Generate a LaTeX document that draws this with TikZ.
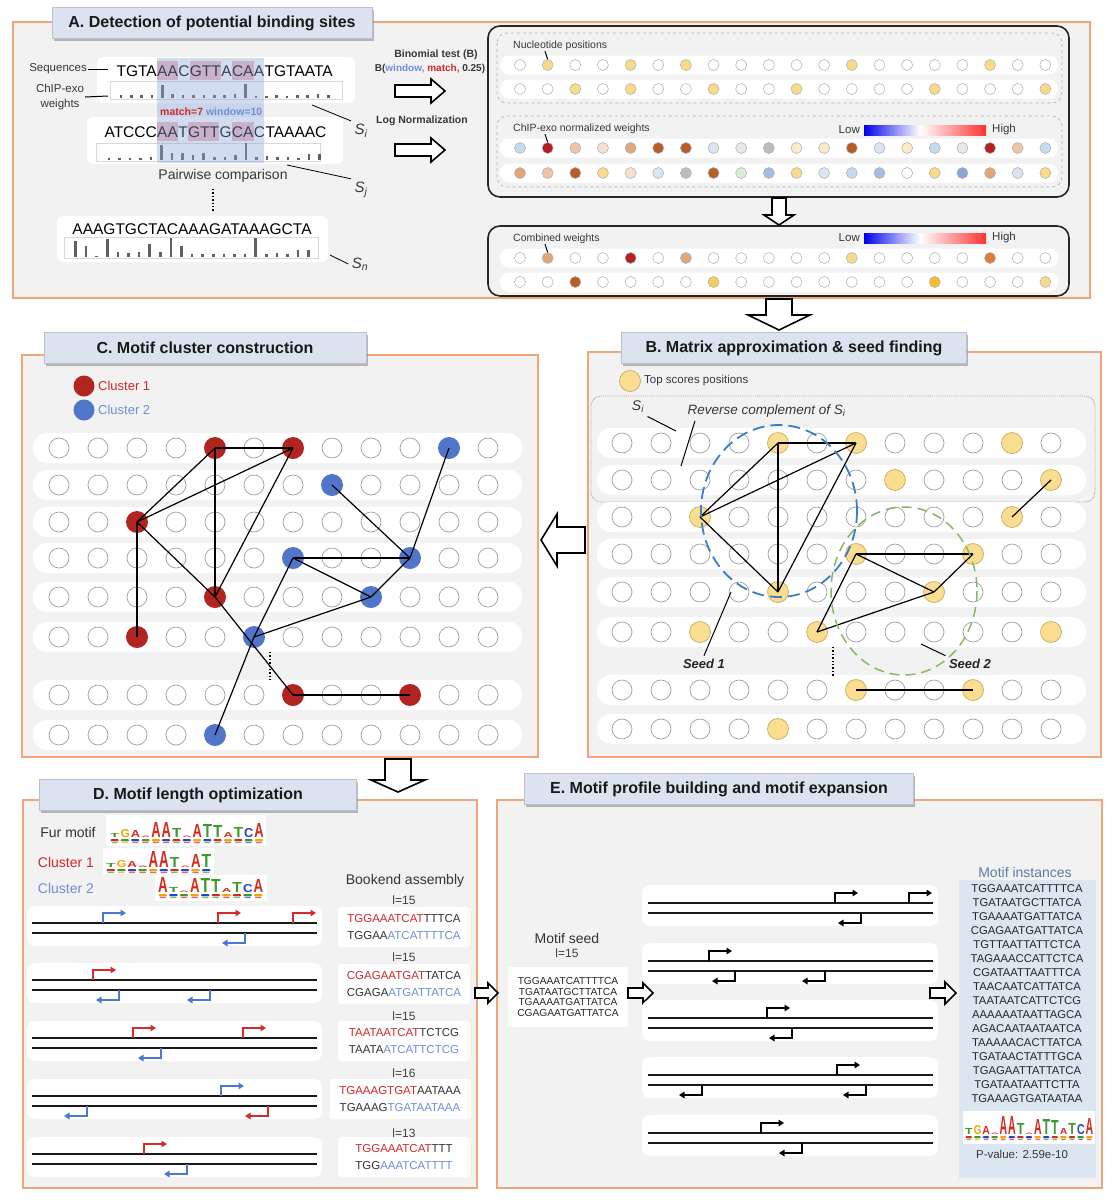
\documentclass[tikz,border=0pt]{standalone}
\usepackage{fontspec}
\setmainfont{Liberation Sans}
\usepackage{graphicx}
\usetikzlibrary{arrows.meta,shadows}
\definecolor{orb}{HTML}{EFA679}
\definecolor{pbg}{HTML}{F2F2F2}
\definecolor{tbg}{HTML}{DDE2F0}
\definecolor{txt}{HTML}{383838}
\definecolor{ylw}{HTML}{F9DD90}
\definecolor{ylwd}{HTML}{C9AC5C}
\definecolor{cred}{HTML}{B22420}
\definecolor{cblue}{HTML}{5176C9}
\definecolor{tred}{HTML}{D02A2A}
\definecolor{tblue}{HTML}{6F8FD8}
\definecolor{hlr}{HTML}{F2B8BE}
\definecolor{winb}{HTML}{8FA8DC}
\definecolor{bar}{HTML}{606060}
\definecolor{lgA}{HTML}{D62A1E}
\definecolor{lgT}{HTML}{3C9A2C}
\definecolor{lgC}{HTML}{2446C2}
\definecolor{lgG}{HTML}{F2A600}
\definecolor{mib}{HTML}{DCE6F1}
\definecolor{mit}{HTML}{5A7EA8}
\definecolor{dred}{HTML}{D42A2A}
\definecolor{dblue}{HTML}{4A78D2}
\definecolor{elb}{HTML}{3B7EC6}
\definecolor{elg}{HTML}{86B865}
\definecolor{cw}{HTML}{FFFFFF}
\definecolor{cy}{HTML}{F7DB8A}
\definecolor{cyl}{HTML}{FBEBC6}
\definecolor{cyd}{HTML}{F4CF5C}
\definecolor{cg}{HTML}{F3BE32}
\definecolor{cdr}{HTML}{B41F1F}
\definecolor{cbr}{HTML}{B95C26}
\definecolor{csa}{HTML}{E3A679}
\definecolor{csl}{HTML}{EEC5A6}
\definecolor{cpe}{HTML}{F6E1CE}
\definecolor{clb}{HTML}{C6DAF0}
\definecolor{cvb}{HTML}{DAE4F3}
\definecolor{cmb}{HTML}{A3BEE2}
\definecolor{cdb}{HTML}{8CA4D8}
\definecolor{cgr}{HTML}{BCBCBC}
\definecolor{clg}{HTML}{E8E8E8}
\definecolor{cgn}{HTML}{D8ECD6}
\definecolor{cor}{HTML}{E07B3C}
\makeatletter
\newcommand{\ifinlist}[2]{\edef\my@tmp{\noexpand\in@{,#1,}{,#2,}}\my@tmp
  \ifin@\expandafter\@firstoftwo\else\expandafter\@secondoftwo\fi}
\makeatother
\newcommand{\fsz}[1]{\fontsize{#1}{#1}\selectfont}
\newcommand{\harrV}[6]{\draw[harr] ({#1-#4},#2) -- ({#1-#4},{#3-#6}) -- ({#1-#5},{#3-#6}) -- (#1,#3) -- ({#1+#5},{#3-#6}) -- ({#1+#4},{#3-#6}) -- ({#1+#4},#2) -- cycle;}
\newcommand{\harrH}[6]{\draw[harr] (#1,{#3-#4}) -- ({#2-#6},{#3-#4}) -- ({#2-#6},{#3-#5}) -- (#2,#3) -- ({#2-#6},{#3+#5}) -- ({#2-#6},{#3+#4}) -- (#1,{#3+#4}) -- cycle;}
\newcommand{\fwdarr}[3]{\draw[bent,#3] (#1,#2) -- (#1,{#2-10}) -- ({#1+23},{#2-10});}
\newcommand{\revarr}[3]{\draw[bent,#3] (#1,#2) -- (#1,{#2+10}) -- ({#1-23},{#2+10});}
\newcommand{\wbars}[4]{\foreach \hh [count=\kk from 0] in {#4} {\fill[bar] ({#1+(\kk+0.5)*#2-1.3},#3) rectangle ({#1+(\kk+0.5)*#2+1.3},{#3-\hh-0.8});}}
\newcommand{\seqlogo}[6]{\foreach \lL/\lH/\lS [count=\kk from 0] in {#6} {%
  \node[inner sep=0, anchor=south west] (#1m\kk) at ({#2+\kk*#4},#3) {\resizebox{#5pt}{\lH pt}{\textcolor{lg\lL}{\bfseries\lL}}};
  \fill[lg\lS, rounded corners=0.8pt] ({#2+\kk*#4+0.6},{#3+1.2}) rectangle ({#2+\kk*#4+#5-0.6},{#3+3.2});
  \fill[lg\lL!70!white, rounded corners=0.6pt] ({#2+\kk*#4+1.5},{#3+3.6}) rectangle ({#2+\kk*#4+#5-1.5},{#3+5});}}
\def\Bhi{0-4,0-6,0-10,1-7,1-11,2-2,2-10,3-6,3-9,4-4,4-8,5-2,5-5,5-11,6-6,6-9,7-4}
\def\Cred{0-4,0-6,2-2,4-4,5-2,6-6,6-9}
\def\Cblue{0-10,1-7,3-6,3-9,4-8,5-5,7-4}
\begin{document}
\begin{tikzpicture}[x=1pt,y=-1pt,
  panel/.style={draw=orb, line width=1.3pt, fill=pbg},
  ttl/.style={fill=tbg, draw=tbg!85!black, line width=0.3pt, font=\fsz{16}\bfseries, text=black!90, minimum height=31pt, inner sep=0pt, drop shadow={shadow xshift=1.5pt, shadow yshift=-2.5pt, fill=black!45, opacity=0.6}},
  lbl/.style={font=\fsz{11.5}, text=txt, inner sep=1pt},
  ec/.style={circle, draw=gray!75, fill=white, line width=0.7pt, minimum size=20pt, inner sep=0pt},
  yc/.style={circle, draw=ylwd, fill=ylw, line width=0.7pt, minimum size=21pt, inner sep=0pt},
  rc/.style={circle, fill=cred, minimum size=22pt, inner sep=0pt},
  bc/.style={circle, fill=cblue, minimum size=22pt, inner sep=0pt},
  ac/.style={circle, draw=gray!65, line width=0.5pt, minimum size=11pt, inner sep=0pt},
  edge/.style={line width=1.2pt, black},
  sq/.style={font=\fsz{15.5}, inner xsep=0pt, inner ysep=4pt, anchor=base west},
  harr/.style={draw=black, fill=white, line width=1.6pt, line join=miter},
  bent/.style={line width=2pt, -{Triangle[length=5.5pt,width=6.5pt]}},
  strand/.style={line width=1.8pt, black!90},
  dseq/.style={fill=white, rounded corners=3pt, minimum width=132pt, minimum height=40pt, align=center, font=\fontsize{11.5}{17}\selectfont, text=black!80, inner sep=2pt},
  smlbl/.style={font=\fsz{10.5}, text=txt, anchor=west, inner sep=0pt}
]
\path[use as bounding box, fill=white] (0,0) rectangle (1117,1200);
% ---------- panels
\draw[panel] (13,22) rectangle (1090,298);
\draw[panel] (588,352) rectangle (1101,757);
\draw[panel] (22,355) rectangle (538,757);
\draw[panel] (23,800) rectangle (477,1188);
\draw[panel] (497,800) rectangle (1102,1188);
\node[ttl, minimum width=320pt] (tA) at (212,23) {A. Detection of potential binding sites};
\node[ttl, minimum width=345pt] (tB) at (794,348) {B. Matrix approximation \& seed finding};
\node[ttl, minimum width=322pt] (tC) at (205,348) {C. Motif cluster construction};
\node[ttl, minimum width=317pt] (tD) at (198,795) {D. Motif length optimization};
\node[ttl, minimum width=389pt] (tE) at (719,789) {E. Motif profile building and motif expansion};

% ---------- panel A left
\fill[white, rounded corners=6pt] (97,57) rectangle (355,103);
\fill[white, rounded corners=6pt] (87,117) rectangle (343,164);
\fill[white, rounded corners=6pt] (57,216) rectangle (328,262);
\draw[gray!30, line width=0.6pt] (110,81) rectangle (342,99);
\draw[gray!30, line width=0.6pt] (96,143) rectangle (320,161);
\draw[gray!30, line width=0.6pt] (64,237) rectangle (318,258);
\node[sq, fill=hlr] (s1b) at (157,76) {AA};
\node[sq, anchor=base east] (s1a) at (s1b.base west) {TGTA};
\node[sq] (s1c) at (s1b.base east) {C};
\node[sq, fill=hlr] (s1d) at (s1c.base east) {GTT};
\node[sq] (s1e) at (s1d.base east) {A};
\node[sq, fill=hlr] (s1f) at (s1e.base east) {CA};
\node[sq] (s1g) at (s1f.base east) {A};
\node[sq] (s1h) at (s1g.base east) {TGTAATA};
\node[sq, fill=hlr] (s2b) at (157,137) {AA};
\node[sq, anchor=base east] (s2a) at (s2b.base west) {ATCCC};
\node[sq] (s2c) at (s2b.base east) {T};
\node[sq, fill=hlr] (s2d) at (s2c.base east) {GTT};
\node[sq] (s2e) at (s2d.base east) {G};
\node[sq, fill=hlr] (s2f) at (s2e.base east) {CA};
\node[sq] (s2g) at (s2f.base east) {C};
\node[sq] (s2h) at (s2g.base east) {TAAAAC};
\node[sq, anchor=base] (sn) at (192,234) {AAAGTGCTACAAAGATAAAGCTA};
\wbars{115.7}{10.38}{98}{2,2,2,2,12,3,2,2,2,2,2,3,13,1.5,1.5,2,1.5,2,2,3,2}
\wbars{103.6}{10.54}{160}{1,1,1,1,2,14,6,6,4,6,2,2,4,16,2,3,2,2,1,5,5}
\wbars{70.1}{10.6}{257}{15,10,0,17,4,3,4,12,4,18,10,2,2,2,2,2,2,18,2,3,2,6,6}
\coordinate (wt) at (0,58);
\coordinate (wb) at (0,163);
\fill[winb, opacity=0.4] (s1b.west |- wt) rectangle (s1g.east |- wb);
\node[font=\fsz{10.5}\bfseries, anchor=base west, inner sep=0pt] (mw) at (160,115) {\textcolor{tred}{match=7} \textcolor{tblue}{window=10}};
\node[lbl, anchor=east] (lseq) at (88,69) {Sequences};
\coordinate (lseqE) at (108,69);
\draw[line width=1pt] (lseq.east) -- (lseqE);
\node[lbl, align=center, font=\fontsize{11.5}{15}\selectfont] (lchip) at (60,97) {ChIP-exo\\weights};
\coordinate (lchipE) at (108,96);
\draw[line width=1pt] (lchip.east) -- (lchipE);
\node[font=\fsz{14}, text=txt] (pw) at (223,176) {Pairwise comparison};
\coordinate (dA) at (213,189);
\coordinate (dB) at (213,212);
\draw[dotted, line width=1.4pt] (dA) -- (dB);
\node[font=\fsz{15}\itshape, text=txt] (si) at (361,131) {S\textsubscript{i}};
\coordinate (siA) at (312,105);
\draw[line width=0.8pt] (siA) -- (si.north west);
\node[font=\fsz{15}\itshape, text=txt] (sj) at (361,190) {S\textsubscript{j}};
\coordinate (sjA) at (287,165);
\draw[line width=0.8pt] (sjA) -- (sj.north west);
\node[font=\fsz{15}\itshape, text=txt] (snl) at (360,264) {S\textsubscript{n}};
\coordinate (snA) at (330,255);
\draw[line width=0.8pt] (snA) -- (snl.west);
\node[font=\fsz{10.5}\bfseries, text=txt] (bt) at (436,55) {Binomial test (B)};
\node[font=\fsz{10}\bfseries, text=txt] (bf) at (430,69) {B(\textcolor{tblue}{window,} \textcolor{tred}{match,} 0.25)};
\harrH{395}{445}{91}{6}{12}{14}
\node[font=\fsz{10.5}\bfseries, text=txt] (ln) at (422,121) {Log Normalization};
\harrH{395}{445}{150}{6}{12}{14}

% ---------- panel A right
\draw[line width=1.6pt, draw=black!85, rounded corners=12pt] (488,26) rectangle (1069,197);
\draw[dashed, draw=gray!60, line width=0.7pt, rounded corners=10pt] (497,33) rectangle (1062,103);
\draw[dashed, draw=gray!60, line width=0.7pt, rounded corners=10pt] (497,116) rectangle (1062,187);
\harrV{779}{198}{225}{7}{15}{10}
\draw[line width=1.6pt, draw=black!85, rounded corners=12pt] (488,226) rectangle (1069,296);
\foreach \yy in {65,89,148,173,258,282} {\fill[white, rounded corners=9pt] (500,{\yy-9.5}) rectangle (1058,{\yy+9.5});}
\foreach \col [count=\kk from 0] in {cw,cy,cw,cw,cy,cw,cy,cw,cw,cw,cw,cw,cy,cw,cw,cw,cw,cy,cw,cw} {\node[ac, fill=\col] (na\kk) at ({520+27.65*\kk},65) {};}
\foreach \col [count=\kk from 0] in {cw,cw,cy,cw,cy,cw,cw,cy,cw,cw,cy,cw,cw,cw,cw,cy,cw,cw,cw,cy} {\node[ac, fill=\col] (nb\kk) at ({520+27.65*\kk},89) {};}
\foreach \col [count=\kk from 0] in {clb,cdr,csl,cpe,csa,cbr,cbr,cvb,clg,cgr,cyl,cyl,cbr,cvb,cyl,clb,clg,cdr,csl,clb} {\node[ac, fill=\col] (ca\kk) at ({520+27.65*\kk},148) {};}
\foreach \col [count=\kk from 0] in {csa,csl,cbr,cy,cpe,cvb,cgr,cbr,cgn,cmb,cy,cvb,clb,cmb,cw,cy,cdb,csa,cvb,cy} {\node[ac, fill=\col] (cb\kk) at ({520+27.65*\kk},173) {};}
\foreach \col [count=\kk from 0] in {cw,csa,cw,cw,cdr,cw,csa,cw,cw,cw,cw,cw,cy,cw,cw,cw,cw,cor,cw,cw} {\node[ac, fill=\col] (ma\kk) at ({520+27.65*\kk},258) {};}
\foreach \col [count=\kk from 0] in {cw,cw,cbr,cw,cw,cw,cw,cyd,cw,cw,cw,cw,cw,cw,cw,cg,cw,cw,cw,cy} {\node[ac, fill=\col] (mb\kk) at ({520+27.65*\kk},282) {};}
\node[smlbl] (lnuc) at (513,46) {Nucleotide positions};
\draw[line width=1pt] ([xshift=32pt]lnuc.south west) -- (na1.north);
\node[smlbl] (lchn) at (513,129) {ChIP-exo normalized weights};
\draw[line width=1pt] ([xshift=32pt]lchn.south west) -- (ca1.north);
\node[smlbl] (lcomb) at (513,239) {Combined weights};
\draw[line width=1pt] ([xshift=32pt]lcomb.south west) -- (ma1.north);
\foreach \yy/\nm in {130/g1,238/g2} {
  \node[font=\fsz{11.5}, text=txt, anchor=east, inner sep=0pt] (low\nm) at (860,\yy) {Low};
  \shade[left color=blue!92!black, right color=white] (864,{\yy-5}) rectangle (920,{\yy+5});
  \shade[left color=white, right color=red!80!white] (920,{\yy-5}) rectangle (986,{\yy+5});
  \node[font=\fsz{11.5}, text=txt, anchor=west, inner sep=0pt] (high\nm) at (992,\yy) {High};
}
\harrV{779}{299}{330}{13}{31}{15}

% ---------- panel B
\node[yc] (bleg) at (630,381) {};
\node[lbl, anchor=west] (blegt) at (643,381) {Top scores positions};
\draw[densely dotted, gray!70, line width=0.9pt, rounded corners=10pt] (591,396) rectangle (1095,502);
\foreach \rr/\yy in {0/443,1/480,2/517,3/554,4/592,5/632,6/690,7/729} {
  \fill[white, rounded corners=14pt] (597,{\yy-15}) rectangle (1086,{\yy+15});
  \foreach \cc in {0,...,11} {
    \ifinlist{\rr-\cc}{\Bhi}{\node[yc] (b\rr-\cc) at ({622+39*\cc},\yy) {};}{\node[ec] (b\rr-\cc) at ({622+39*\cc},\yy) {};}
  }
}
\foreach \u/\v in {0-4/0-6, 0-4/2-2, 0-6/2-2, 0-4/4-4, 0-6/4-4, 2-2/4-4, 3-6/3-9, 3-6/4-8, 3-9/4-8, 4-8/5-5, 3-6/5-5, 6-6/6-9, 2-10/1-11}
  {\draw[edge] (b\u.center) -- (b\v.center);}
\draw[dash pattern=on 12pt off 6pt, elb, line width=1.8pt] (779,511) ellipse [x radius=78, y radius=86];
\draw[dash pattern=on 10pt off 6pt, elg, line width=1.5pt] (904,591) ellipse [x radius=73, y radius=84];
\node[font=\fsz{14}\itshape, text=txt] (bsi) at (638,407) {S\textsubscript{i}};
\coordinate (bsiB) at (676,431);
\draw[line width=1pt] (bsi.south east) -- (bsiB);
\node[font=\fsz{13.5}\itshape, text=txt, anchor=west] (brc) at (684,411) {Reverse complement of S\textsubscript{i}};
\coordinate (brcB) at (681,466);
\draw[line width=1pt] ([xshift=11pt]brc.south west) -- (brcB);
\node[font=\fsz{13}\bfseries\itshape, text=black!85] (seed1) at (704,664) {Seed 1};
\coordinate (sd1) at (731,592);
\draw[line width=1pt] (seed1.north) -- (sd1);
\node[font=\fsz{13}\bfseries\itshape, text=black!85] (seed2) at (970,664) {Seed 2};
\coordinate (sd2) at (921,644);
\draw[line width=1pt] (seed2.north west) -- (sd2);
\coordinate (bd1) at (833,647);
\coordinate (bd2) at (833,676);
\draw[dotted, line width=1.4pt] (bd1) -- (bd2);
\harrH{585}{541}{540}{13}{26}{-16}

% ---------- panel C
\node[rc, minimum size=21pt] (cl1) at (84,386) {};
\node[lbl, font=\fsz{13}, text=tred, anchor=west] (cl1t) at (97,386) {Cluster 1};
\node[bc, minimum size=21pt] (cl2) at (84,410) {};
\node[lbl, font=\fsz{13}, text=tblue, anchor=west] (cl2t) at (97,410) {Cluster 2};
\foreach \rr/\yy in {0/448,1/485,2/522,3/558,4/597,5/637,6/695,7/735} {
  \fill[white, rounded corners=14pt] (33,{\yy-15}) rectangle (522,{\yy+15});
  \foreach \cc in {0,...,11} {
    \ifinlist{\rr-\cc}{\Cred}{\node[rc] (c\rr-\cc) at ({59+39*\cc},\yy) {};}
      {\ifinlist{\rr-\cc}{\Cblue}{\node[bc] (c\rr-\cc) at ({59+39*\cc},\yy) {};}{\node[ec] (c\rr-\cc) at ({59+39*\cc},\yy) {};}}
  }
}
\foreach \u/\v in {0-4/0-6, 0-4/2-2, 0-6/2-2, 0-4/4-4, 0-6/4-4, 2-2/4-4, 2-2/5-2, 4-4/6-6, 6-6/6-9, 0-10/3-9, 1-7/3-9, 3-6/3-9, 3-6/4-8, 3-9/4-8, 4-8/5-5, 3-6/5-5, 5-5/7-4}
  {\draw[edge] (c\u.center) -- (c\v.center);}
\coordinate (cd1) at (270,652);
\coordinate (cd2) at (270,680);
\draw[dotted, line width=1.4pt] (cd1) -- (cd2);
\harrV{398}{759}{792}{13}{27}{12}

% ---------- panel D
\node[font=\fsz{14}, text=black!80] (fur) at (68,832) {Fur motif};
\node[font=\fsz{14}, text=tred] (c1l) at (66,862) {Cluster 1};
\node[font=\fsz{14}, text=tblue] (c2l) at (66,888) {Cluster 2};
\fill[white] (106,815) rectangle (266,846);
\fill[white] (103,848) rectangle (214,874);
\fill[white] (155,875) rectangle (267,901);
\seqlogo{fl}{110}{838}{10.3}{9.3}{T/4/A, G/8/T, A/7/C, A/1.5/T, A/15/G, A/15/C, T/9/A, A/1.5/C, A/13/G, T/13/C, T/12/A, A/5/G, T/10/A, C/9/T, A/14/G}
\seqlogo{ca}{106}{868}{10.6}{9.6}{T/4/A, G/7/T, A/6/C, A/1.5/T, A/16/G, A/16/C, T/10/A, A/1.5/C, A/13/G, T/13/C}
\seqlogo{cb}{158}{893}{10.6}{9.6}{A/15/G, T/5/C, A/1.5/T, A/14/G, T/14/C, T/13/A, A/4/G, T/10/A, C/8/T, A/13/G}
\node[font=\fsz{14}, text=black!80] (bk) at (405,881) {Bookend assembly};
\foreach \tp in {906,963,1021,1079,1137} {
  \fill[white, rounded corners=8pt] (27,\tp) rectangle (322,{\tp+40});
  \draw[strand] (32,{\tp+17}) -- (317,{\tp+17});
  \draw[strand] (32,{\tp+27}) -- (317,{\tp+27});
}
\fwdarr{103}{923}{dblue} \fwdarr{218}{923}{dred} \fwdarr{293}{923}{dred} \revarr{245}{933}{dblue}
\fwdarr{93}{980}{dred} \revarr{119}{990}{dblue} \revarr{210}{990}{dblue}
\fwdarr{133}{1038}{dred} \fwdarr{243}{1038}{dred} \revarr{161}{1048}{dblue}
\fwdarr{221}{1096}{dblue} \revarr{87}{1106}{dblue} \revarr{268}{1106}{dred}
\fwdarr{144}{1154}{dred} \revarr{187}{1164}{dblue}
\node[font=\fsz{12}, text=black!75] (dl1) at (404,900) {l=15};
\node[dseq] (d1) at (404,927) {\textcolor{tred}{TGGAAATCAT}TTTCA\\TGGAA\textcolor{tblue}{ATCATTTTCA}};
\node[font=\fsz{12}, text=black!75] (dl2) at (404,957) {l=15};
\node[dseq] (d2) at (404,984) {\textcolor{tred}{CGAGAATGAT}TATCA\\CGAGA\textcolor{tblue}{ATGATTATCA}};
\node[font=\fsz{12}, text=black!75] (dl3) at (404,1016) {l=15};
\node[dseq] (d3) at (404,1041) {\textcolor{tred}{TAATAATCAT}TCTCG\\TAATA\textcolor{tblue}{ATCATTCTCG}};
\node[font=\fsz{12}, text=black!75] (dl4) at (404,1073) {l=16};
\node[dseq, minimum width=141pt] (d4) at (400,1099) {\textcolor{tred}{TGAAAGTGAT}AATAAA\\TGAAAG\textcolor{tblue}{TGATAATAAA}};
\node[font=\fsz{12}, text=black!75] (dl5) at (404,1133) {l=13};
\node[dseq] (d5) at (404,1157) {\textcolor{tred}{TGGAAATCAT}TTT\\TGG\textcolor{tblue}{AAATCATTTT}};
\harrH{475}{498}{993}{5}{10}{10}

% ---------- panel E
\node[font=\fsz{14}, text=black!80] (ms) at (567,938) {Motif seed};
\node[font=\fsz{12}, text=black!75] (msl) at (567,953) {l=15};
\node[fill=white, minimum width=120pt, minimum height=60pt, align=center, font=\fontsize{10.2}{10.4}\selectfont, text=black!85] (msb) at (568,997) {TGGAAATCATTTTCA\\TGATAATGCTTATCA\\TGAAAATGATTATCA\\CGAGAATGATTATCA};
\harrH{628}{653}{993}{5}{10}{10}
\foreach \tp in {885,943,1000,1057,1115} {
  \fill[white, rounded corners=8pt] (642,\tp) rectangle (938,{\tp+41});
  \draw[strand] (648,{\tp+18}) -- (933,{\tp+18});
  \draw[strand] (648,{\tp+28}) -- (933,{\tp+28});
}
\fwdarr{835}{903}{black} \fwdarr{909}{903}{black} \revarr{861}{913}{black}
\fwdarr{709}{961}{black} \revarr{735}{971}{black} \revarr{825}{971}{black}
\fwdarr{767}{1018}{black} \revarr{792}{1028}{black}
\fwdarr{837}{1075}{black} \revarr{702}{1085}{black} \revarr{866}{1085}{black}
\fwdarr{761}{1133}{black} \revarr{802}{1143}{black}
\harrH{930}{956}{993}{5}{11}{11}
\node[font=\fsz{14}, text=mit] (mi) at (1025,872) {Motif instances};
\fill[mib] (959,880) rectangle (1096,1178);
\node[anchor=north, inner sep=0pt, align=center, font=\fontsize{11.3}{14}\selectfont, text=black!85] (mil) at (1027,884) {TGGAAATCATTTTCA\\TGATAATGCTTATCA\\TGAAAATGATTATCA\\CGAGAATGATTATCA\\TGTTAATTATTCTCA\\TAGAAACCATTCTCA\\CGATAATTAATTTCA\\TAACAATCATTATCA\\TAATAATCATTCTCG\\AAAAAATAATTAGCA\\AGACAATAATAATCA\\TAAAAACACTTATCA\\TGATAACTATTTGCA\\TGAGAATTATTATCA\\TGATAATAATTCTTA\\TGAAAGTGATAATAA};
\fill[white] (963,1111) rectangle (1095,1144);
\seqlogo{el}{965}{1135}{8.6}{7.6}{T/6/A, G/9/T, A/8/C, A/1.5/T, A/18/G, A/18/C, T/11/A, A/1.5/C, A/15/G, T/15/C, T/14/A, A/6/G, T/11/A, C/10/T, A/16/G}
\node[font=\fsz{11.5}, text=txt] (pv) at (1022,1154) {P-value: 2.59e-10};
\end{tikzpicture}
\end{document}
